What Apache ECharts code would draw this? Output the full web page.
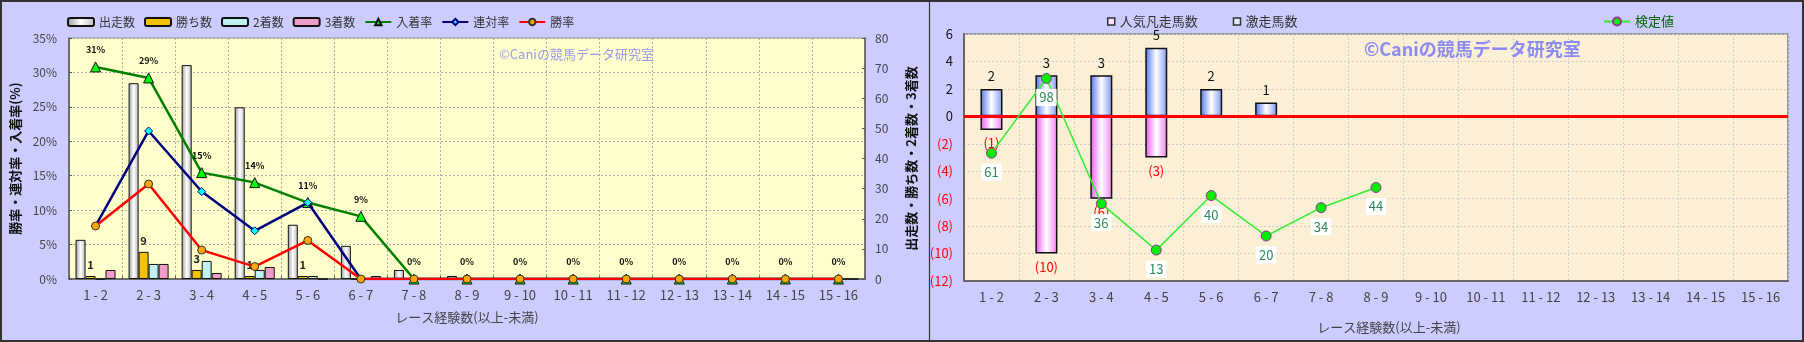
<!DOCTYPE html>
<html>
<head>
<meta charset="utf-8">
<script src="https://cdn.jsdelivr.net/npm/echarts@6/dist/echarts.min.js"></script>
<style>
html,body{margin:0;padding:0;background:#ccccff;}
#c{width:1804px;height:342px;}
</style>
</head>
<body>
<div id="c"></div>
<script>
// ---------- data ----------
const categories = ['1 - 2','2 - 3','3 - 4','4 - 5','5 - 6','6 - 7','7 - 8','8 - 9','9 - 10','10 - 11','11 - 12','12 - 13','13 - 14','14 - 15','15 - 16'];
// left chart (counts)
const starts  = [13, 65, 71, 57, 18, 11, 3, 1, 0, 0, 0, 0, 0, 0, 0];
const wins    = [1, 9, 3, 1, 1, 0, 0, 0, 0, 0, 0, 0, 0, 0, 0];
const seconds = [0, 5, 6, 3, 1, 0, 0, 0, 0, 0, 0, 0, 0, 0, 0];
const thirds  = [3, 5, 2, 4, 0, 1, 0, 0, 0, 0, 0, 0, 0, 0, 0];
// left chart (rates, %)
const placeRate  = [30.8, 29.2, 15.45, 14.0, 11.1, 9.1, 0, 0, 0, 0, 0, 0, 0, 0, 0];
const rentaiRate = [7.7, 21.5, 12.7, 7.0, 11.1, 0, 0, 0, 0, 0, 0, 0, 0, 0, 0];
const winRate    = [7.7, 13.8, 4.2, 1.8, 5.6, 0, 0, 0, 0, 0, 0, 0, 0, 0, 0];
// right chart
const gekisou = [2, 3, 3, 5, 2, 1, 0, 0, 0, 0, 0, 0, 0, 0, 0];
const bonsou  = [-1, -10, -6, -3, 0, 0, 0, 0, 0, 0, 0, 0, 0, 0, 0];
const kentei  = [61, 98, 36, 13, 40, 20, 34, 44, null, null, null, null, null, null, null];
const pctTicks = [0, 35, 5];
const cntTicks = [0, 80, 10];
const rTicks = [-12, 6, 2];

const FONT = '"Noto Sans CJK JP", "Noto Sans", sans-serif';
const G = echarts.graphic;
const grad = (a, b, c) => new G.LinearGradient(0, 0, 1, 0, [{offset:0,color:a},{offset:0.5,color:b},{offset:1,color:c}]);

const chart = echarts.init(document.getElementById('c'));
const dotted = {show:true, lineStyle:{color:'#aaa', type:[2,2], width:1}};

const option = {
  backgroundColor: '#ccccff',
  textStyle: {fontFamily: FONT},
  animation: false,
  graphic: [
    {type:'rect', shape:{x:1, y:1, width:1802, height:340}, style:{fill:'none', stroke:'#333', lineWidth:2}, z:100},
    {type:'line', shape:{x1:929.5, y1:0, x2:929.5, y2:342}, style:{stroke:'#333', lineWidth:1.2}, z:100},
    {type:'text', left:499, top:48, z:50, style:{text:'©Caniの競馬データ研究室', fill:'#9a9af0', font:'13px ' + FONT}},
    {type:'text', left:1364, top:40, z:50, style:{text:'©Caniの競馬データ研究室', fill:'#8c8cf0', font:'bold 18px ' + FONT}}
  ],
  legend: [
    {
      left: 62, top: 11, itemWidth: 26, itemHeight: 8, itemGap: 9,
      textStyle: {fontSize: 12, color: '#333', fontFamily: FONT},
      data: [
        {name:'出走数', icon:'roundRect'}, {name:'勝ち数', icon:'roundRect'}, {name:'2着数', icon:'roundRect'}, {name:'3着数', icon:'roundRect'},
        '入着率', '連対率', '勝率'
      ]
    },
    {
      left: 1102, top: 10, itemWidth: 7, itemHeight: 7, itemGap: 35,
      textStyle: {fontSize: 13, color: '#333', fontFamily: FONT},
      data: [
        {name:'人気凡走馬数', icon:'rect', itemStyle:{color:'#ffe6ff', borderColor:'#333', borderWidth:1.5}},
        {name:'激走馬数', icon:'rect', itemStyle:{color:'#e6ecff', borderColor:'#333', borderWidth:1.5}}
      ]
    },
    {
      left: 1598, top: 10, itemWidth: 26, itemHeight: 10,
      textStyle: {fontSize: 13, color: '#006600', fontFamily: FONT},
      data: ['検定値']
    }
  ],
  grid: [
    {left: 69, right: 939, top: 38, bottom: 63, show: true, backgroundColor: '#ffffcc', borderColor: '#999', borderWidth: 1},
    {left: 964, right: 16, top: 34, bottom: 61, show: true, backgroundColor: '#fbf0d6', borderColor: '#999', borderWidth: 2}
  ],
  xAxis: [
    {
      gridIndex: 0, type: 'category', data: categories,
      axisLine: {lineStyle: {color: '#555', width: 1.5}},
      axisTick: {show: true, inside: true, length: 3, lineStyle: {color: '#555'}},
      axisLabel: {color: '#444', fontSize: 13, margin: 10, interval: 0},
      splitLine: dotted,
      name: 'レース経験数(以上-未満)', nameLocation: 'middle', nameGap: 32,
      nameTextStyle: {color: '#444', fontSize: 13}
    },
    {
      gridIndex: 1, type: 'category', data: categories,
      axisLine: {onZero: false, lineStyle: {color: '#666', width: 2}},
      axisTick: {show: false},
      axisLabel: {color: '#444', fontSize: 13, margin: 10, interval: 0},
      splitLine: {show: true, lineStyle: {color: '#ccc', type: [2,2], width: 1}},
      name: 'レース経験数(以上-未満)', nameLocation: 'middle', nameGap: 40,
      nameTextStyle: {color: '#444', fontSize: 13, padding: [0, 0, 0, 26]}
    }
  ],
  yAxis: [
    {
      gridIndex: 0, type: 'value', min: pctTicks[0], max: pctTicks[1], interval: pctTicks[2],
      axisLine: {show: true, lineStyle: {color: '#555', width: 1.5}},
      axisTick: {show: true, inside: true, length: 3},
      axisLabel: {formatter: '{value}%', color: '#444', fontSize: 12, margin: 12},
      splitLine: dotted,
      name: '勝率・連対率・入着率(%)', nameLocation: 'middle', nameGap: 47,
      nameTextStyle: {color: '#111', fontSize: 13, fontWeight: 'bold'}
    },
    {
      gridIndex: 0, type: 'value', position: 'right', min: cntTicks[0], max: cntTicks[1], interval: cntTicks[2],
      axisLine: {show: true, lineStyle: {color: '#555', width: 1.5}},
      axisTick: {show: true, inside: true, length: 3},
      axisLabel: {color: '#444', fontSize: 12, margin: 10},
      splitLine: {show: false},
      name: '出走数・勝ち数・2着数・3着数', nameLocation: 'middle', nameGap: 40, nameRotate: 90,
      nameTextStyle: {color: '#111', fontSize: 13, fontWeight: 'bold'}
    },
    {
      gridIndex: 1, type: 'value', min: rTicks[0], max: rTicks[1], interval: rTicks[2],
      axisLine: {show: true, onZero: false, lineStyle: {color: '#666', width: 2}},
      axisTick: {show: false},
      axisLabel: {
        fontSize: 13, margin: 11,
        formatter: v => v < 0 ? '(' + (-v) + ')' : String(v),
        color: v => (Number(v) < 0 || String(v).indexOf('(') === 0) ? '#ff0000' : '#111'
      },
      splitLine: {show: true, lineStyle: {color: '#ccc', type: [2,2], width: 1}}
    },
    {
      gridIndex: 1, type: 'value', min: -2.3, max: 120, show: false, splitLine: {show: false}
    }
  ],
  series: [
    {
      name: '出走数', type: 'bar', xAxisIndex: 0, yAxisIndex: 1, data: starts, barWidth: 10, barGap: '0%',
      itemStyle: {color: grad('#9a9a9a', '#ffffff', '#b8b8b8'), borderColor: '#111', borderWidth: 1}
    },
    {
      name: '勝ち数', type: 'bar', xAxisIndex: 0, yAxisIndex: 1, data: wins, barWidth: 10, barGap: '0%',
      itemStyle: {color: '#f2c200', borderColor: '#111', borderWidth: 1},
      label: {show: true, position: 'top', distance: 6, color: '#222', fontSize: 11, fontWeight: 'bold',
        formatter: p => p.value ? String(p.value) : ''}
    },
    {
      name: '2着数', type: 'bar', xAxisIndex: 0, yAxisIndex: 1, data: seconds, barWidth: 10, barGap: '0%',
      itemStyle: {color: '#c0f2f2', borderColor: '#111', borderWidth: 1}
    },
    {
      name: '3着数', type: 'bar', xAxisIndex: 0, yAxisIndex: 1, data: thirds, barWidth: 10, barGap: '0%',
      itemStyle: {color: '#f09cc8', borderColor: '#111', borderWidth: 1}
    },
    {
      name: '入着率', type: 'line', xAxisIndex: 0, yAxisIndex: 0, data: placeRate,
      symbol: 'triangle', symbolSize: 10,
      lineStyle: {color: '#008000', width: 2.5},
      itemStyle: {color: '#00ff00', borderColor: '#111', borderWidth: 1},
      label: {show: true, position: 'top', distance: 7, color: '#111', fontSize: 9, fontWeight: 'bold',
        formatter: p => Math.round(p.value) + '%'},
      z: 3
    },
    {
      name: '連対率', type: 'line', xAxisIndex: 0, yAxisIndex: 0, data: rentaiRate,
      symbol: 'diamond', symbolSize: 8,
      lineStyle: {color: '#000080', width: 2.5},
      itemStyle: {color: '#00ffff', borderColor: '#000080', borderWidth: 1},
      z: 4
    },
    {
      name: '勝率', type: 'line', xAxisIndex: 0, yAxisIndex: 0, data: winRate,
      symbol: 'circle', symbolSize: 8,
      lineStyle: {color: '#ff0000', width: 2.5},
      itemStyle: {color: '#ffa500', borderColor: '#333', borderWidth: 1},
      z: 5
    },
    {
      name: '人気凡走馬数', type: 'bar', xAxisIndex: 1, yAxisIndex: 2, data: bonsou, stack: 'r', barWidth: 22,
      itemStyle: {color: grad('#ee55ee', '#ffffff', '#f080f0'), borderColor: '#111', borderWidth: 1.5},
      label: {show: true, position: 'bottom', distance: 7, color: '#ff0000', fontSize: 13,
        formatter: p => p.value ? '(' + (-p.value) + ')' : ''}
    },
    {
      name: '激走馬数', type: 'bar', xAxisIndex: 1, yAxisIndex: 2, data: gekisou, stack: 'r', barWidth: 22,
      itemStyle: {color: grad('#5070ee', '#ffffff', '#8098f0'), borderColor: '#111', borderWidth: 1.5},
      label: {show: true, position: 'top', distance: 6, color: '#111', fontSize: 13,
        formatter: p => p.value ? String(p.value) : ''},
      markLine: {
        silent: true, symbol: 'none', label: {show: false},
        lineStyle: {color: '#ff0000', width: 3, type: 'solid'},
        data: [{yAxis: 0}]
      }
    },
    {
      name: '検定値', type: 'line', xAxisIndex: 1, yAxisIndex: 3, data: kentei,
      symbol: 'circle', symbolSize: 10,
      lineStyle: {color: '#33ee33', width: 1.5},
      itemStyle: {color: '#00ee00', borderColor: '#993399', borderWidth: 1},
      label: {show: true, position: 'bottom', distance: 5, color: '#2e8b57', fontSize: 13,
        backgroundColor: '#ffffff', padding: [2, 3]},
      z: 6
    }
  ]
};
chart.setOption(option);
</script>
</body>
</html>
